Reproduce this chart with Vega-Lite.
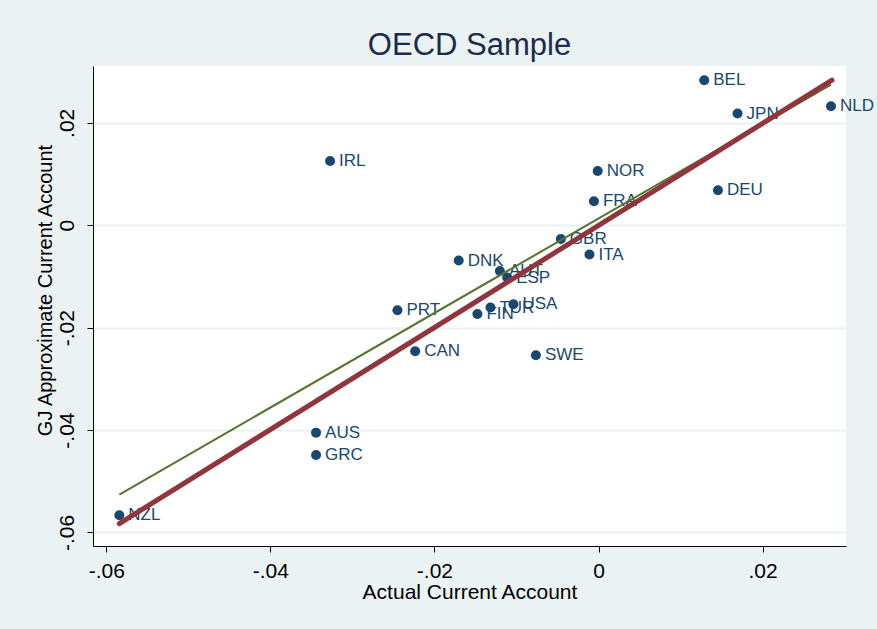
{
  "$schema": "https://vega.github.io/schema/vega-lite/v6.json",
  "width": 753,
  "height": 480,
  "autosize": {"type": "none"},
  "padding": {"left": 93, "top": 66, "right": 31, "bottom": 83},
  "background": "#eaf2f3",
  "title": {
    "text": "OECD Sample",
    "font": "Liberation Sans",
    "fontSize": 31,
    "fontWeight": "normal",
    "color": "#1c2b4e",
    "anchor": "middle",
    "baseline": "alphabetic",
    "offset": -20
  },
  "datasets": {
    "points": [
      {"name": "BEL", "x": 0.01289, "y": 0.02832},
      {"name": "JPN", "x": 0.01695, "y": 0.02182},
      {"name": "NLD", "x": 0.02834, "y": 0.02324},
      {"name": "IRL", "x": -0.03272, "y": 0.01256},
      {"name": "NOR", "x": -0.0001, "y": 0.0106},
      {"name": "DEU", "x": 0.01456, "y": 0.00684},
      {"name": "FRA", "x": -0.00056, "y": 0.00469},
      {"name": "GBR", "x": -0.00459, "y": -0.00268},
      {"name": "ITA", "x": -0.0011, "y": -0.00572},
      {"name": "DNK", "x": -0.01704, "y": -0.0069},
      {"name": "AUT", "x": -0.01202, "y": -0.00893},
      {"name": "ESP", "x": -0.01113, "y": -0.01021},
      {"name": "PRT", "x": -0.02451, "y": -0.0166},
      {"name": "TUR", "x": -0.01317, "y": -0.01607},
      {"name": "USA", "x": -0.01037, "y": -0.01543},
      {"name": "FIN", "x": -0.01476, "y": -0.01732},
      {"name": "CAN", "x": -0.02235, "y": -0.02461},
      {"name": "SWE", "x": -0.00763, "y": -0.02539},
      {"name": "AUS", "x": -0.03443, "y": -0.0405},
      {"name": "GRC", "x": -0.03443, "y": -0.04486},
      {"name": "NZL", "x": -0.05841, "y": -0.05664}
    ],
    "lines": [
      {"series": "fit", "x": -0.05841, "y": -0.0526},
      {"series": "fit", "x": 0.02834, "y": 0.02748},
      {"series": "diag", "x": -0.05841, "y": -0.05826},
      {"series": "diag", "x": 0.02846, "y": 0.02832}
    ]
  },
  "config": {
    "view": {"fill": "white", "stroke": null},
    "font": "Liberation Sans",
    "axis": {
      "labelFont": "Liberation Sans",
      "titleFont": "Liberation Sans",
      "labelFontSize": 21,
      "titleFontSize": 21,
      "titleFontWeight": "normal",
      "labelColor": "#000000",
      "titleColor": "#000000",
      "domainColor": "#000000",
      "domainWidth": 1,
      "tickColor": "#000000",
      "tickWidth": 1,
      "tickSize": 6
    }
  },
  "encoding": {
    "x": {
      "field": "x",
      "type": "quantitative",
      "scale": {"domain": [-0.06162, 0.03017], "nice": false, "zero": false},
      "axis": {
        "title": "Actual Current Account",
        "values": [-0.06, -0.04, -0.02, 0, 0.02],
        "labelExpr": "datum.value == 0 ? '0' : replace(replace(format(datum.value, '.2f'), '\u2212', '-'), '0.', '.')",
        "grid": false,
        "labelPadding": 8,
        "titlePadding": 0
      }
    },
    "y": {
      "field": "y",
      "type": "quantitative",
      "scale": {"domain": [-0.06264, 0.0311], "nice": false, "zero": false},
      "axis": {
        "title": "GJ Approximate Current Account",
        "titleFontSize": 20,
        "titleY": 224,
        "values": [-0.06, -0.04, -0.02, 0, 0.02],
        "labelExpr": "datum.value == 0 ? '0' : replace(replace(format(datum.value, '.2f'), '\u2212', '-'), '0.', '.')",
        "labelAngle": 270,
        "labelAlign": "center",
        "labelBaseline": "bottom",
        "labelPadding": 10,
        "grid": true,
        "gridColor": "#eaf2f3",
        "gridWidth": 2,
        "titlePadding": 1
      }
    }
  },
  "layer": [
    {
      "data": {"name": "points"},
      "mark": {"type": "circle", "size": 100, "color": "#1a476f", "opacity": 1}
    },
    {
      "data": {"name": "points"},
      "mark": {"type": "text", "align": "left", "baseline": "middle", "dx": 9, "fontSize": 17, "color": "#1a476f", "font": "Liberation Sans"},
      "encoding": {"text": {"field": "name"}}
    },
    {
      "data": {"name": "lines"},
      "transform": [{"filter": "datum.series == 'fit'"}],
      "mark": {"type": "line", "color": "#55752f", "strokeWidth": 2},
      "encoding": {"order": {"field": "x"}}
    },
    {
      "data": {"name": "lines"},
      "transform": [{"filter": "datum.series == 'diag'"}],
      "mark": {"type": "line", "color": "#90353b", "strokeWidth": 5, "strokeCap": "round"},
      "encoding": {"order": {"field": "x"}}
    }
  ]
}
